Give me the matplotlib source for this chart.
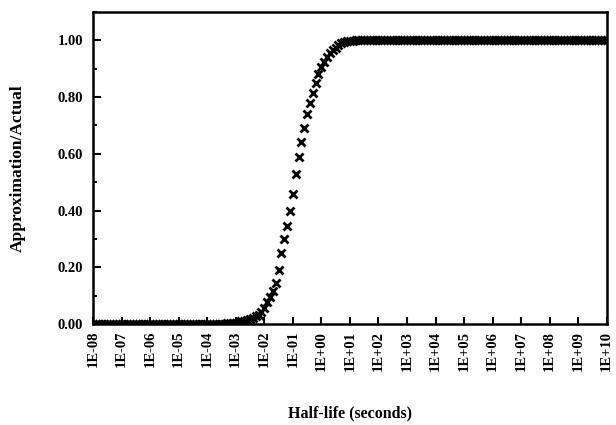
import numpy as np
import matplotlib
matplotlib.use("Agg")
import matplotlib.pyplot as plt
from matplotlib.ticker import MultipleLocator, FormatStrFormatter

plt.rcParams['font.family'] = ['Liberation Serif', 'DejaVu Serif']

# sample positions: exponents of ten, one point every tenth of a decade
log_t = np.round(np.arange(-8.0, 10.0001, 0.1), 1)
half_life = 10.0 ** log_t

# ratio, in rows of ten points (one decade per row)
ratio_low = [
    0.000, 0.000, 0.000, 0.000, 0.000, 0.000, 0.000, 0.000, 0.000, 0.000,  # -8
    0.000, 0.000, 0.000, 0.000, 0.000, 0.000, 0.000, 0.000, 0.000, 0.000,  # -7
    0.000, 0.000, 0.000, 0.000, 0.000, 0.000, 0.000, 0.000, 0.000, 0.000,  # -6
    0.000, 0.000, 0.000, 0.000, 0.000, 0.000, 0.000, 0.000, 0.000, 0.000,  # -5
    0.000, 0.000, 0.000, 0.000, 0.000, 0.000, 0.001, 0.002, 0.003, 0.004,  # -4
    0.005, 0.007, 0.009, 0.012, 0.014, 0.018, 0.022, 0.027, 0.033, 0.041,  # -3
    0.055, 0.076, 0.095, 0.117, 0.145, 0.190, 0.250, 0.300, 0.345, 0.400,  # -2
    0.460, 0.530, 0.590, 0.640, 0.690, 0.740, 0.780, 0.815, 0.850, 0.880,  # -1
    0.905, 0.925, 0.942, 0.955, 0.965, 0.974, 0.982, 0.989, 0.994, 0.997,  # 0
]
ratio_high = [
    0.999, 0.999, 1.000, 1.000, 1.000, 1.000, 1.000, 1.000, 1.000, 1.000,  # 1
    1.000, 1.000, 1.000, 1.000, 1.000, 1.000, 1.000, 1.000, 1.000, 1.000,  # 2
    1.000, 1.000, 1.000, 1.000, 1.000, 1.000, 1.000, 1.000, 1.000, 1.000,  # 3
    1.000, 1.000, 1.000, 1.000, 1.000, 1.000, 1.000, 1.000, 1.000, 1.000,  # 4
    1.000, 1.000, 1.000, 1.000, 1.000, 1.000, 1.000, 1.000, 1.000, 1.000,  # 5
    1.000, 1.000, 1.000, 1.000, 1.000, 1.000, 1.000, 1.000, 1.000, 1.000,  # 6
    1.000, 1.000, 1.000, 1.000, 1.000, 1.000, 1.000, 1.000, 1.000, 1.000,  # 7
    1.000, 1.000, 1.000, 1.000, 1.000, 1.000, 1.000, 1.000, 1.000, 1.000,  # 8
    1.000, 1.000, 1.000, 1.000, 1.000, 1.000, 1.000, 1.000, 1.000, 1.000,  # 9
    1.000,                                                                 # 10
]
ratio = np.array(ratio_low + ratio_high)

tick_exps = list(range(-8, 11))
tick_labels = ['1E%+03d' % e for e in tick_exps]

fig = plt.figure(figsize=(6.16, 4.25), dpi=100)
ax = fig.add_axes([0.151, 0.2376, 0.834, 0.7342])

ax.plot(half_life, ratio, linestyle='none', marker='x', color='black',
        markersize=5.5, markeredgewidth=2.0)

ax.set_xscale('log')
ax.set_xlim(1e-8, 1e10)
ax.set_ylim(0, 1.1)

ax.set_xticks([10.0 ** e for e in tick_exps])
ax.set_xticklabels(tick_labels, rotation=90, fontsize=10.5, fontweight='bold')
ax.xaxis.set_minor_locator(matplotlib.ticker.NullLocator())
ax.tick_params(axis='x', direction='in', length=5, width=1.5, pad=5)

ax.yaxis.set_major_locator(MultipleLocator(0.2))
ax.yaxis.set_minor_locator(MultipleLocator(0.1))
ax.yaxis.set_major_formatter(FormatStrFormatter('%.2f'))
ax.set_yticks([0, 0.2, 0.4, 0.6, 0.8, 1.0])
for lab in ax.get_yticklabels():
    lab.set_fontsize(10.5)
    lab.set_fontweight('bold')
ax.tick_params(axis='y', which='major', direction='in', length=6, width=1.5, pad=7)
ax.tick_params(axis='y', which='minor', direction='in', length=3, width=1.5)

for sp in ax.spines.values():
    sp.set_linewidth(1.8)

ax.set_ylabel('Approximation/Actual', fontsize=12.5, fontweight='bold', labelpad=23)
ax.set_xlabel('Half-life (seconds)', fontsize=11.5, fontweight='bold', labelpad=25)

fig.savefig('out.png', dpi=100, facecolor='white')
